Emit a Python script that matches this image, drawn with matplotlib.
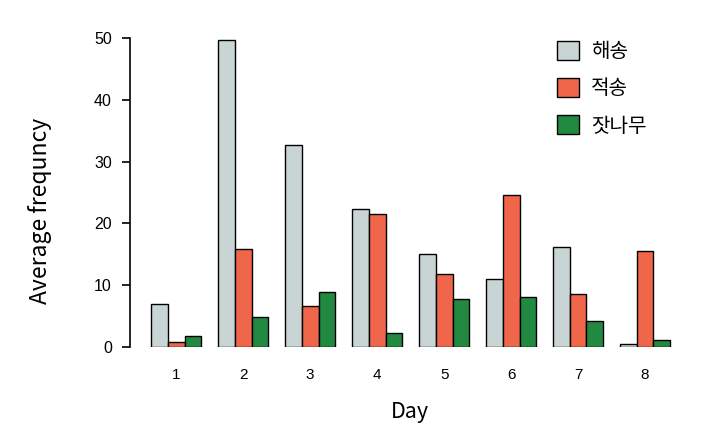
import numpy as np
import matplotlib.pyplot as plt
from matplotlib.patches import Patch

days = ["1", "2", "3", "4", "5", "6", "7", "8"]
species = ["해송", "적송", "잣나무"]
haesong = [6.9, 49.6, 32.7, 22.3, 15.1, 11.0, 16.2, 0.5]
jeoksong = [0.8, 15.9, 6.7, 21.6, 11.8, 24.6, 8.5, 15.6]
jatnamu = [1.8, 4.8, 8.9, 2.3, 7.8, 8.1, 4.2, 1.1]
colors = ["#C8D5D4", "#F0664B", "#218A40"]

fig = plt.figure(figsize=(7.18, 4.30), dpi=100)
ax = fig.add_axes([0.181, 0.193, 0.78, 0.7186])

x = np.arange(len(days))
w = 0.25
for i, (vals, c) in enumerate(zip([haesong, jeoksong, jatnamu], colors)):
    ax.bar(x + (i - 1) * w, vals, w, color=c, edgecolor="black", linewidth=1.0)

ax.set_xlim(-0.69, 7.67)
ax.set_ylim(0, 50)
ax.set_yticks([0, 10, 20, 30, 40, 50])
ax.set_xticks(x)
ax.set_xticklabels(days, fontsize=11, family="Liberation Sans")
for lab in ax.get_yticklabels():
    lab.set_family("Liberation Sans")
    lab.set_fontsize(11.5)
ax.tick_params(axis="x", length=0, pad=15)
ax.tick_params(axis="y", length=6, width=1.2, pad=7)

for s in ["top", "right", "bottom"]:
    ax.spines[s].set_visible(False)
ax.spines["left"].set_linewidth(1.2)
ax.spines["left"].set_bounds(0, 50)

ax.set_xlabel("Day", fontsize=15.5, family="Noto Sans CJK KR", labelpad=14)
ax.set_ylabel("Average frequncy", fontsize=16.5, family="Noto Sans CJK KR")
ax.yaxis.set_label_coords(-0.14, 0.44)

handles = [Patch(facecolor=c, edgecolor="black", linewidth=1.0) for c in colors]
ax.legend(handles, species, loc="upper right", bbox_to_anchor=(0.955, 1.05),
          frameon=False, prop={"family": "Noto Sans CJK KR", "size": 14.5},
          handlelength=1.1, handleheight=1.1, labelspacing=0.78, handletextpad=0.6)

fig.savefig("out.png", dpi=100)
